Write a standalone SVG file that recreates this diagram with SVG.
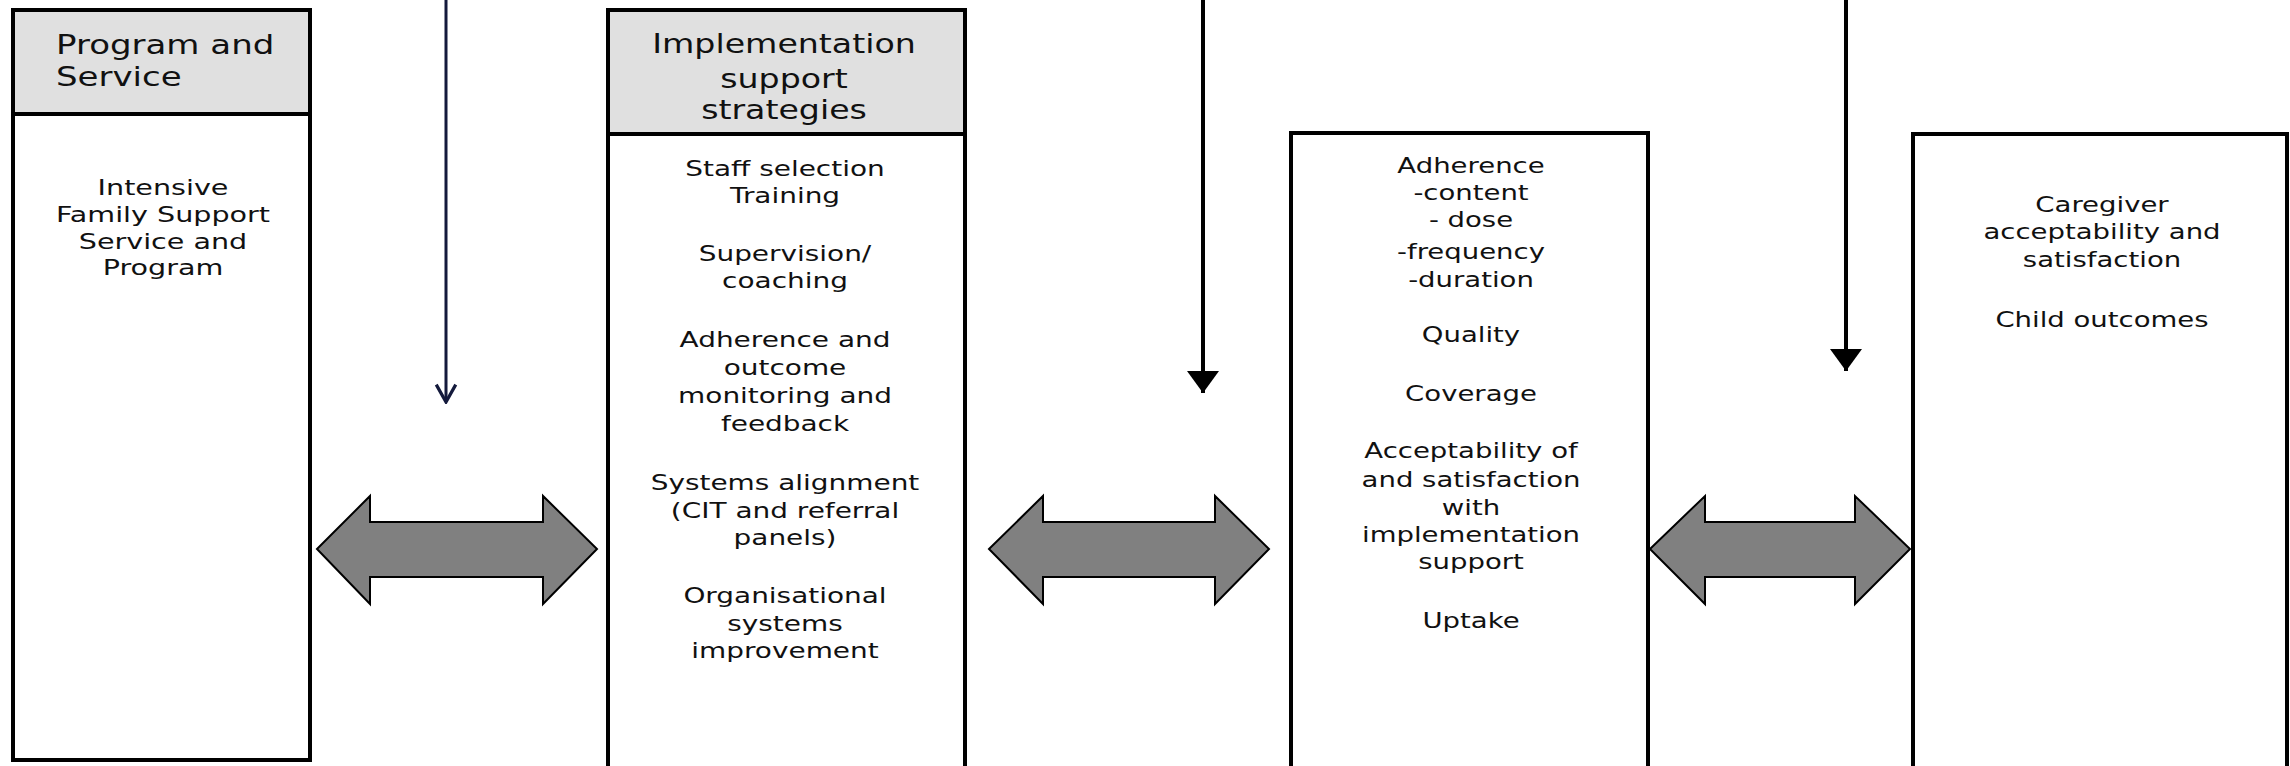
<svg xmlns="http://www.w3.org/2000/svg" width="2290" height="766" viewBox="0 0 2290 766">
  <style>
    .box { fill: #ffffff; stroke: #000000; stroke-width: 4; }
    .head { fill: #e0e0e0; stroke: #000000; stroke-width: 4; }
    .txt { font-family: "DejaVu Sans", Verdana, sans-serif; fill: #111111; text-anchor: middle; }
    .body { font-size: 21px; }
    .body22 { font-size: 22px; }
    .htxt { font-size: 27px; }
    .dbl { fill: #808080; stroke: #000000; stroke-width: 2; stroke-linejoin: miter; }
    .vline { stroke: #000000; stroke-width: 4; fill: none; }
    .vthin { stroke: #141a3c; stroke-width: 3; fill: none; }
  </style>
  <defs>
    <marker id="solidHead" markerUnits="userSpaceOnUse" markerWidth="24" markerHeight="34" viewBox="0 -17 23 34" refX="22" refY="0" orient="auto">
      <path d="M0,-16 L22,0 L0,16 Z" fill="#000000"/>
    </marker>
    <marker id="openHead" markerUnits="userSpaceOnUse" markerWidth="22" markerHeight="26" viewBox="-2 -12 20 24" refX="16" refY="0" orient="auto">
      <path d="M0,-9 L16,0 L0,9" fill="none" stroke="#141a3c" stroke-width="3"/>
    </marker>
  </defs>

  <g id="node-program">
    <rect class="box" x="13" y="10" width="297" height="750"/>
    <rect class="head" x="13" y="10" width="297" height="104"/>
    <g transform="translate(56 0) scale(1.26 1)">
      <text class="txt htxt" x="0" y="54" style="text-anchor:start">Program and</text>
      <text class="txt htxt" x="0" y="86" style="text-anchor:start">Service</text>
    </g>
    <g transform="translate(163 0) scale(1.3 1)">
      <text class="txt body22" x="0" y="195">Intensive</text>
      <text class="txt body22" x="0" y="222">Family Support</text>
      <text class="txt body22" x="0" y="249">Service and</text>
      <text class="txt body22" x="0" y="275">Program</text>
    </g>
  </g>

  <g id="node-implementation">
    <rect class="box" x="608" y="10" width="357" height="770"/>
    <rect class="head" x="608" y="10" width="357" height="124"/>
    <g transform="translate(784 0) scale(1.23 1)">
      <text class="txt htxt" x="0" y="53">Implementation</text>
      <text class="txt htxt" x="0" y="88">support</text>
      <text class="txt htxt" x="0" y="119">strategies</text>
    </g>
    <g transform="translate(785 0) scale(1.27 1)">
      <text class="txt body22" x="0" y="176">Staff selection</text>
      <text class="txt body22" x="0" y="203">Training</text>
      <text class="txt body22" x="0" y="261">Supervision/</text>
      <text class="txt body22" x="0" y="288">coaching</text>
      <text class="txt body22" x="0" y="347">Adherence and</text>
      <text class="txt body22" x="0" y="375">outcome</text>
      <text class="txt body22" x="0" y="403">monitoring and</text>
      <text class="txt body22" x="0" y="431">feedback</text>
      <text class="txt body22" x="0" y="490">Systems alignment</text>
      <text class="txt body22" x="0" y="518">(CIT and referral</text>
      <text class="txt body22" x="0" y="545">panels)</text>
      <text class="txt body22" x="0" y="603">Organisational</text>
      <text class="txt body22" x="0" y="631">systems</text>
      <text class="txt body22" x="0" y="658">improvement</text>
    </g>
  </g>

  <g id="node-outcomes">
    <rect class="box" x="1291" y="133" width="357" height="650"/>
    <g transform="translate(1471 0) scale(1.31 1)">
      <text class="txt body" x="0" y="173">Adherence</text>
      <text class="txt body" x="0" y="200">-content</text>
      <text class="txt body" x="0" y="227">- dose</text>
      <text class="txt body" x="0" y="259">-frequency</text>
      <text class="txt body" x="0" y="287">-duration</text>
      <text class="txt body" x="0" y="342">Quality</text>
      <text class="txt body" x="0" y="401">Coverage</text>
      <text class="txt body" x="0" y="458">Acceptability of</text>
      <text class="txt body" x="0" y="487">and satisfaction</text>
      <text class="txt body" x="0" y="515">with</text>
      <text class="txt body" x="0" y="542">implementation</text>
      <text class="txt body" x="0" y="569">support</text>
      <text class="txt body" x="0" y="628">Uptake</text>
    </g>
  </g>

  <g id="node-caregiver">
    <rect class="box" x="1913" y="134" width="374" height="650"/>
    <g transform="translate(2102 0) scale(1.31 1)">
      <text class="txt body" x="0" y="212">Caregiver</text>
      <text class="txt body" x="0" y="239">acceptability and</text>
      <text class="txt body" x="0" y="267">satisfaction</text>
      <text class="txt body" x="0" y="327">Child outcomes</text>
    </g>
  </g>

  <g id="connectors">
    <line class="vthin" x1="446" y1="-5" x2="446" y2="402" marker-end="url(#openHead)"/>
    <line class="vline" x1="1203" y1="-5" x2="1203" y2="393" marker-end="url(#solidHead)"/>
    <line class="vline" x1="1846" y1="-5" x2="1846" y2="371" marker-end="url(#solidHead)"/>
    <polygon class="dbl" points="317,549 370,496 370,522 543,522 543,496 597,549 543,604 543,577 370,577 370,604"/>
    <polygon class="dbl" points="989,549 1043,496 1043,522 1215,522 1215,496 1269,549 1215,604 1215,577 1043,577 1043,604"/>
    <polygon class="dbl" points="1650,549 1705,496 1705,522 1855,522 1855,496 1910,549 1855,604 1855,577 1705,577 1705,604"/>
  </g>
</svg>
